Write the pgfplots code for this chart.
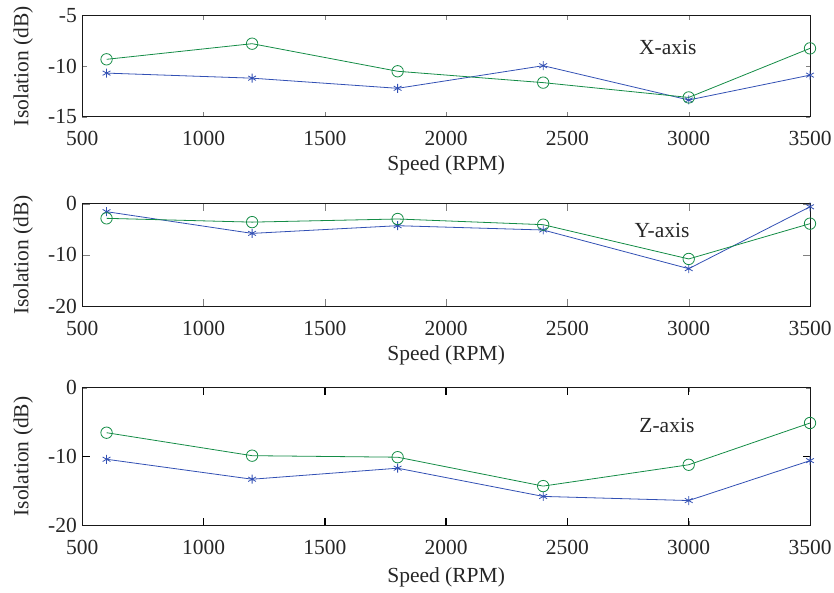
\documentclass[border=0pt]{standalone}
\usepackage{pgfplots}
\pgfplotsset{compat=1.18}
\usepackage{fontspec}
\setmainfont{Liberation Serif}
\definecolor{mblue}{RGB}{50,80,180}
\definecolor{mgreen}{RGB}{20,140,70}
\pgfplotsset{
  myax/.style={
    scale only axis, width=727.7pt, anchor=north west,
    xmin=500, xmax=3500, xtick={500,1000,...,3500},
    /pgf/number format/assume math mode=true,
    /pgf/number format/1000 sep={},
    axis line style={black!90, line width=1pt},
    ticklabel style={font=\fontsize{21.5}{25}\selectfont, text=black!85},
    xticklabel style={anchor=center, yshift=-22pt},
    yticklabel style={xshift=-2pt},
    every axis y label/.style={at={(axis description cs:-0.0811,0.5)}, rotate=90, anchor=center, font=\fontsize{21.5}{25}\selectfont, text=black!85},
    every axis x label/.style={at={(axis description cs:0.5,0)}, anchor=center, yshift=-49pt, font=\fontsize{21.5}{25}\selectfont, text=black!85},
    xlabel={Speed (RPM)}, ylabel={Isolation (dB)},
    clip=false,
  },
  tk/.style={black, line width=1.5pt, no markers, forget plot},
  sb/.style={mblue, line width=0.8pt, mark=asterisk, mark size=4.5pt, mark options={line width=0.8pt}},
  sg/.style={mgreen, line width=0.8pt, mark=o, mark size=5.7pt, mark options={line width=0.8pt}},
}
\begin{document}
\begin{tikzpicture}
\useasboundingbox (0pt,0pt) rectangle (834pt,-592pt);
\begin{axis}[myax, at={(82.3pt,-15.3pt)}, height=101.4pt, ymin=-15, ymax=-5, ytick={-15,-10,-5}]
\addplot[sb] coordinates {(600,-10.7) (1200,-11.2) (1800,-12.2) (2400,-9.97) (3000,-13.35) (3500,-10.9)};
\addplot[sg] coordinates {(600,-9.34) (1200,-7.8) (1800,-10.52) (2400,-11.64) (3000,-13.1) (3500,-8.26)};
\node[font=\fontsize{21.5}{25}\selectfont, text=black!85] at (axis cs:2914,-8.13) {X-axis};
\end{axis}
\begin{axis}[myax, at={(82.3pt,-203.7pt)}, height=102.3pt, ymin=-20, ymax=0, ytick={-20,-10,0}, major tick length=0.26cm]
\addplot[sb] coordinates {(600,-1.56) (1200,-5.8) (1800,-4.3) (2400,-5.14) (3000,-12.7) (3500,-0.6)};
\addplot[sg] coordinates {(600,-2.86) (1200,-3.6) (1800,-2.99) (2400,-4.1) (3000,-10.8) (3500,-3.9)};
\node[font=\fontsize{21.5}{25}\selectfont, text=black!85] at (axis cs:2890,-5.14) {Y-axis};
\end{axis}
\begin{axis}[myax, at={(82.3pt,-387.7pt)}, height=137.6pt, ymin=-20, ymax=0, ytick={-20,-10,0}, every axis x label/.append style={yshift=-3pt}]
\addplot[tk] coordinates {(1000,-20) (1000,-18.91)};
\addplot[tk] coordinates {(1500,-20) (1500,-18.91)};
\addplot[tk] coordinates {(2000,-20) (2000,-18.91)};
\addplot[tk] coordinates {(2500,-20) (2500,-18.91)};
\addplot[tk] coordinates {(3000,-20) (3000,-18.91)};
\addplot[tk] coordinates {(1000,0) (1000,-1.09)};
\addplot[tk] coordinates {(1500,0) (1500,-1.09)};
\addplot[tk] coordinates {(2000,0) (2000,-1.09)};
\addplot[tk] coordinates {(2500,0) (2500,-1.09)};
\addplot[tk] coordinates {(3000,0) (3000,-1.09)};
\addplot[tk] coordinates {(500,-10) (530.9,-10)};
\addplot[tk] coordinates {(3500,-10) (3469.1,-10)};
\addplot[sb] coordinates {(600,-10.4) (1200,-13.3) (1800,-11.7) (2400,-15.8) (3000,-16.4) (3500,-10.6)};
\addplot[sg] coordinates {(600,-6.54) (1200,-9.88) (1800,-10.1) (2400,-14.3) (3000,-11.2) (3500,-5.13)};
\node[font=\fontsize{21.5}{25}\selectfont, text=black!85] at (axis cs:2910,-5.42) {Z-axis};
\end{axis}
\end{tikzpicture}
\end{document}
